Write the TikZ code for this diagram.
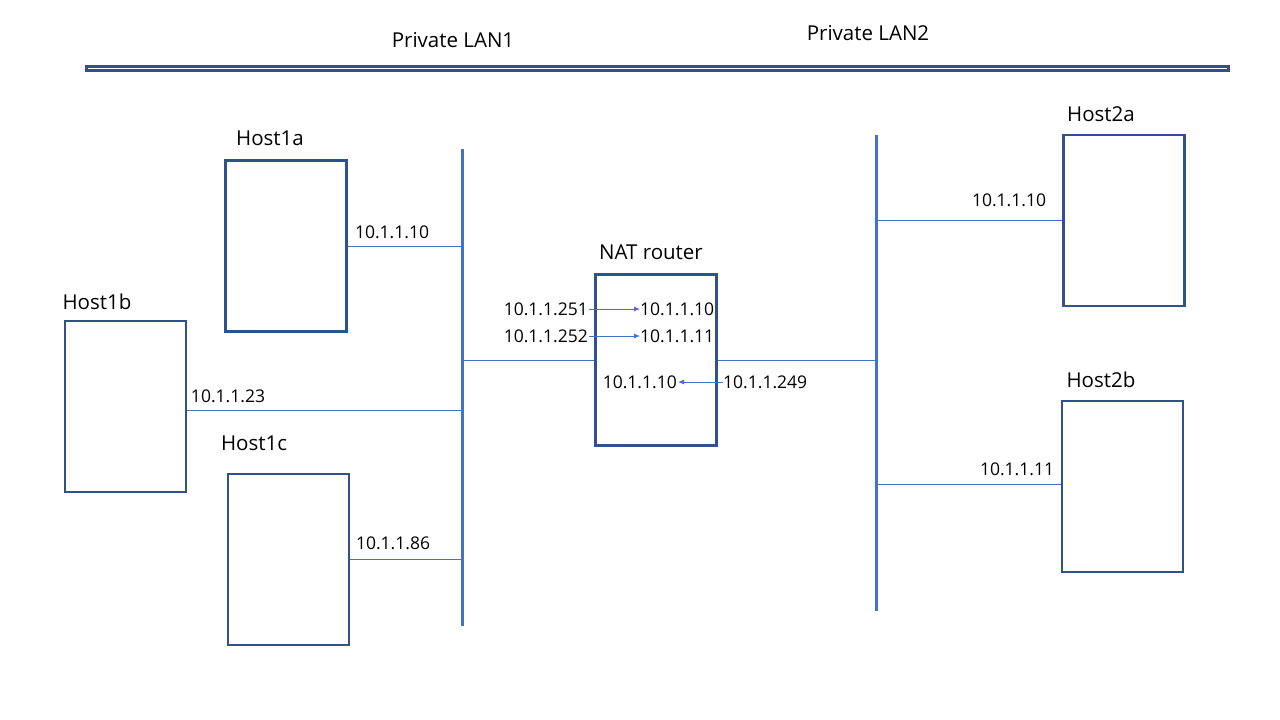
\documentclass[tikz,border=0pt]{standalone}
\usepackage{fontspec}
\setmainfont{Open Sans}
\usepackage{tikz}
\usetikzlibrary{arrows.meta, positioning}
\definecolor{boxblue}{RGB}{47,82,143}
\definecolor{wireblue}{RGB}{68,114,196}
\newcommand{\ipfont}{\fontsize{17.5}{20}\selectfont}

\begin{document}
\begin{tikzpicture}[x=1pt, y=-1pt,
      every node/.style={font=\fontsize{20.5}{24}\selectfont},
      host/.style={draw=boxblue, line width=2.8pt, minimum width=121pt, minimum height=171pt, inner sep=0pt},
      lan/.style={draw=wireblue, line width=3pt},
      wire/.style={draw=wireblue, line width=0.9pt},
      ip/.style={font=\ipfont, inner sep=0pt},
      ar/.style={-{Latex[length=6pt, width=5pt]}, draw=wireblue, line width=0.9pt}]
    \useasboundingbox (0,0) rectangle (1280,720);
    % backbone
    \draw[boxblue, line width=3pt] (86,66.5) rectangle (1228,70.5);
    \node (lan1txt) at (453,40) {Private LAN1};
    \node (lan2txt) at (868,33) {Private LAN2};
    % LAN segments
    \coordinate (l1top) at (462,149); \coordinate (l1bot) at (462,626);
    \coordinate (l2top) at (876,135); \coordinate (l2bot) at (876,611);
    \draw[lan] (l1top) -- (l1bot);
    \draw[lan] (l2top) -- (l2bot);
    % hosts on LAN1
    \node[host] (h1a) at (286,246) {};
    \node[host] (h1b) at (125.5,406.5) {};
    \node[host] (h1c) at (288.5,559.5) {};
    \node (h1aname) at (270,138) {Host1a};
    \node (h1bname) at (97,302) {Host1b};
    \node (h1cname) at (254,443) {Host1c};
    % hosts on LAN2
    \node[host] (h2a) at (1124,220.5) {};
    \node[host] (h2b) at (1122.5,486.5) {};
    \node (h2aname) at (1101,114) {Host2a};
    \node (h2bname) at (1101,380) {Host2b};
    % router
    \node[host] (nat) at (656,360) {};
    \node (natname) at (651,252) {NAT router};
    % links
    \draw[wire] (h1a.east) -- (h1a.east -| l1top);
    \draw[wire] ([yshift=-3.5pt]h1b.east) -- ([yshift=-3.5pt]h1b.east -| l1top);
    \draw[wire] (h1c.east) -- (h1c.east -| l1top);
    \draw[wire] (nat.west -| l1top) -- (nat.west);
    \draw[wire] (nat.east) -- (nat.east -| l2top);
    \draw[wire] (h2a.west -| l2top) -- (h2a.west);
    \draw[wire] ([yshift=2.5pt]h2b.west -| l2top) -- ([yshift=2.5pt]h2b.west);
    \node[ip] (h1aip) at (392,232) {10.1.1.10};
    \node[ip] (h1bip) at (228,396) {10.1.1.23};
    \node[ip] (h1cip) at (393,543) {10.1.1.86};
    \node[ip] (h2aip) at (1009,200) {10.1.1.10};
    \node[ip] (h2bip) at (1017,469) {10.1.1.11};
    % address translation
    \node[ip, anchor=east] (in1) at (588,309) {10.1.1.251};
    \node[ip, anchor=west] (out1) at (640,309) {10.1.1.10};
    \node[ip, anchor=east] (in2) at (588,336) {10.1.1.252};
    \node[ip, anchor=west] (out2) at (640,336) {10.1.1.11};
    \node[ip, anchor=east] (back) at (677,382) {10.1.1.10};
    \node[ip, anchor=west] (pub) at (723,382) {10.1.1.249};
    \draw[ar] ([xshift=1pt]in1.east) -- (out1.west);
    \draw[ar] ([xshift=1pt]in2.east) -- (out2.west);
    \draw[ar] (pub.west) -- ([xshift=1pt]back.east);
  \end{tikzpicture}
\end{document}
